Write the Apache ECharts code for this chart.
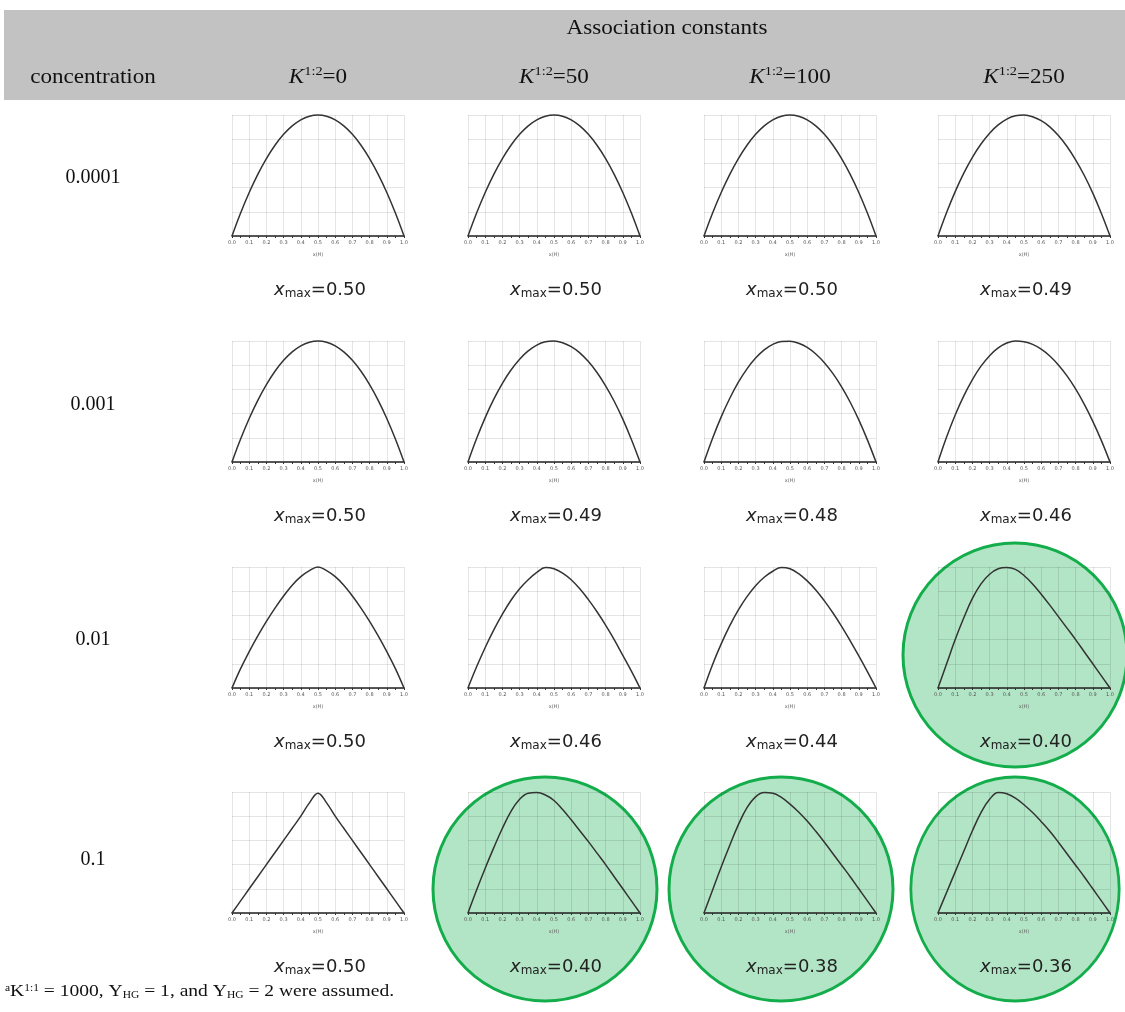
<!DOCTYPE html>
<html lang="en">
<head>
    <meta charset="UTF-8">
    <title>Job plots</title>
    <script src="https://cdn.jsdelivr.net/npm/echarts@6/dist/echarts.min.js"></script>
    <style>
        html, body { margin: 0; padding: 0; background: #fff; }
    </style>
</head>
<body>
    <div id="main" style="width: 1125px;height:1012px;"></div>
    <script type="text/javascript">
        // x(H) 取样点
        var xs = [0, 0.05, 0.1, 0.15, 0.2, 0.25, 0.3, 0.35, 0.4, 0.45, 0.5,
                  0.55, 0.6, 0.65, 0.7, 0.75, 0.8, 0.85, 0.9, 0.95, 1.0];
        var concentrations = ['0.0001', '0.001', '0.01', '0.1'];
        var k12Values = ['0', '50', '100', '250'];
        var xmaxRow1 = ['0.50', '0.50', '0.50', '0.49'];
        var xmaxRow2 = ['0.50', '0.49', '0.48', '0.46'];
        var xmaxRow3 = ['0.50', '0.46', '0.44', '0.40'];
        var xmaxRow4 = ['0.50', '0.40', '0.38', '0.36'];
        // 绿色圈出的格子 [行, 列]
        var highlighted = [[2, 3], [3, 1], [3, 2], [3, 3]];

        // 每个格子的曲线 (归一化)
        var r1c1 = [0, .19, .36, .51, .64, .75, .84, .91, .96, .99, 1.0, .99, .96, .91, .84, .75, .64, .51, .36, .19, 0];
        var r1c2 = [0, .19, .36, .51, .64, .75, .84, .91, .96, .99, 1.0, .99, .96, .91, .84, .75, .64, .51, .36, .19, 0];
        var r1c3 = [0, .19, .36, .51, .64, .75, .84, .91, .96, .99, 1.0, .99, .96, .91, .84, .75, .64, .51, .36, .19, 0];
        var r1c4 = [0, .194, .367, .519, .65, .76, .85, .918, .966, .993, 1.0, .986, .953, .902, .83, .74, .63, .502, .354, .186, 0];
        var r2c1 = [0, .19, .36, .51, .64, .75, .84, .91, .96, .99, 1.0, .99, .96, .91, .84, .75, .64, .51, .36, .19, 0];
        var r2c2 = [0, .194, .367, .519, .65, .76, .85, .918, .966, .993, 1.0, .986, .953, .902, .83, .74, .63, .502, .354, .186, 0];
        var r2c3 = [0, .197, .373, .527, .66, .77, .859, .927, .972, .996, .998, .982, .947, .893, .821, .73, .621, .494, .348, .183, 0];
        var r2c4 = [0, .206, .388, .546, .681, .792, .879, .943, .983, 1.0, .994, .972, .933, .876, .802, .712, .604, .478, .336, .177, 0];
        var r3c1 = [0, .16, .30, .43, .55, .66, .76, .85, .92, .97, 1.0, .97, .92, .85, .76, .66, .55, .43, .30, .16, 0];
        var r3c2 = [0, .175, .335, .48, .61, .725, .82, .895, .955, .995, .985, .95, .895, .82, .73, .63, .52, .40, .27, .14, 0];
        var r3c3 = [0, .195, .365, .515, .645, .755, .845, .915, .965, .995, .985, .945, .885, .81, .72, .62, .51, .39, .265, .135, 0];
        var r3c4 = [0, .20, .40, .58, .74, .86, .94, .985, .995, .98, .93, .86, .775, .685, .59, .495, .40, .30, .20, .10, 0];
        var r4c1 = [0, .10, .20, .30, .40, .50, .60, .70, .80, .91, .99, .91, .80, .70, .60, .50, .40, .30, .20, .10, 0];
        var r4c2 = [0, .19, .37, .54, .70, .84, .94, .99, .995, .975, .93, .855, .77, .68, .59, .495, .40, .30, .20, .10, 0];
        var r4c3 = [0, .19, .38, .56, .73, .87, .96, .995, .99, .955, .90, .835, .76, .675, .585, .49, .395, .30, .20, .10, 0];
        var r4c4 = [0, .17, .34, .51, .68, .83, .94, .995, .985, .95, .895, .83, .755, .675, .585, .49, .395, .30, .20, .10, 0];

        var curves = [[r1c1, r1c2, r1c3, r1c4], [r2c1, r2c2, r2c3, r2c4],
                      [r3c1, r3c2, r3c3, r3c4], [r4c1, r4c2, r4c3, r4c4]];
        var xmaxLabels = [xmaxRow1, xmaxRow2, xmaxRow3, xmaxRow4];

        // 版面
        var colLeft = [232, 468, 704, 938];
        var rowTop = [115, 341, 567, 792];
        var rowLabelY = [178, 405, 640, 860];
        var plotW = 172, plotH = 121;
        var serif = '"Liberation Serif", "DejaVu Serif", serif';
        var sans = '"DejaVu Sans", sans-serif';
        var gridColor = 'rgba(0,0,0,0.1)';

        var grids = [], xAxes = [], yAxes = [], series = [], graphics = [];

        // 表头灰条
        graphics.push({type: 'rect', z: -20, shape: {x: 4, y: 10, width: 1121, height: 90}, style: {fill: '#c2c2c2'}});
        graphics.push({type: 'text', z: 10, x: 667, y: 28, scaleX: 1.1, style: {text: 'Association constants', font: '21px ' + serif, fill: '#111', align: 'center', verticalAlign: 'middle'}});
        graphics.push({type: 'text', z: 10, x: 93, y: 77, scaleX: 1.1, style: {text: 'concentration', font: '21px ' + serif, fill: '#111', align: 'center', verticalAlign: 'middle'}});

        for (var c = 0; c < 4; c++) {
            graphics.push({
                type: 'text', z: 10, x: colLeft[c] + plotW / 2, y: 77, scaleX: 1.1,
                style: {
                    text: '{k|K}{s|1:2}{n|=' + k12Values[c] + '}',
                    align: 'center', verticalAlign: 'middle', fill: '#111',
                    rich: {
                        k: {fontFamily: serif, fontStyle: 'italic', fontSize: 21, fill: '#111'},
                        s: {fontFamily: serif, fontSize: 13, padding: [0, 0, 10, 0], fill: '#111'},
                        n: {fontFamily: serif, fontSize: 21, fill: '#111'}
                    }
                }
            });
        }

        // 行标签
        for (var r = 0; r < 4; r++) {
            graphics.push({type: 'text', z: 10, x: 93, y: rowLabelY[r], style: {text: concentrations[r], font: '20px ' + serif, fill: '#111', align: 'center', verticalAlign: 'middle'}});
        }

        // 绿色圈
        highlighted.forEach(function (cell) {
            var r = cell[0], c = cell[1];
            var narrow = (r === 3 && c === 3);
            graphics.push({
                type: 'circle', z: -10,
                x: colLeft[c] + plotW / 2 - 9,
                y: rowTop[r] + (r === 2 ? 88 : 97),
                scaleX: narrow ? 0.93 : 1,
                shape: {cx: 0, cy: 0, r: 112},
                style: {fill: '#b2e5c6', stroke: '#14ad4b', lineWidth: 3}
            });
        });

        var idx = 0;
        for (var r = 0; r < 4; r++) {
            for (var c = 0; c < 4; c++) {
                grids.push({left: colLeft[c], top: rowTop[r], width: plotW, height: plotH, containLabel: false});
                xAxes.push({
                    gridIndex: idx, type: 'value', min: 0, max: 1, interval: 0.1,
                    name: 'x(H)', nameLocation: 'middle', nameGap: 16,
                    nameTextStyle: {fontSize: 5, color: '#666', fontFamily: sans},
                    axisLine: {show: true, onZero: false, lineStyle: {color: '#222', width: 1.5}},
                    axisTick: {show: true, length: 2, lineStyle: {color: '#333'}},
                    minorTick: {show: true, splitNumber: 2, length: 2, lineStyle: {color: '#333'}},
                    axisLabel: {fontSize: 5, color: '#555', margin: 4, fontFamily: sans,
                        formatter: function (v) { return v.toFixed(1); }},
                    splitLine: {show: true, lineStyle: {color: gridColor, width: 1}}
                });
                yAxes.push({
                    gridIndex: idx, type: 'value', min: 0, max: 1, interval: 0.2,
                    axisLine: {show: false}, axisTick: {show: false}, axisLabel: {show: false},
                    splitLine: {show: true, lineStyle: {color: gridColor, width: 1}}
                });
                var ys = curves[r][c];
                series.push({
                    type: 'line', xAxisIndex: idx, yAxisIndex: idx,
                    data: xs.map(function (x, i) { return [x, ys[i]]; }),
                    showSymbol: false, smooth: 0.4, silent: true, clip: false,
                    lineStyle: {color: '#333', width: 1.5}
                });
                graphics.push({
                    type: 'text', z: 10, x: colLeft[c] + plotW / 2 + 2, y: rowTop[r] + 175,
                    style: {
                        text: '{x|x}{m|max}{v|=' + xmaxLabels[r][c] + '}',
                        align: 'center', verticalAlign: 'middle',
                        rich: {
                            x: {fontFamily: sans, fontStyle: 'italic', fontSize: 18, fill: '#222'},
                            m: {fontFamily: sans, fontSize: 12, padding: [8, 0, 0, 0], fill: '#222'},
                            v: {fontFamily: sans, fontSize: 18, fill: '#222'}
                        }
                    }
                });
                idx++;
            }
        }

        // 脚注
        graphics.push({
            type: 'text', z: 10, x: 5, y: 992, scaleX: 1.15,
            style: {
                text: '{s|a}{k|K}{s|1:1}{n| = 1000, }{k|Y}{b|HG}{n| = 1, and }{k|Y}{b|HG}{n| = 2 were assumed.}',
                align: 'left', verticalAlign: 'middle',
                rich: {
                    n: {fontFamily: serif, fontSize: 17, fill: '#111'},
                    k: {fontFamily: serif, fontSize: 17, fill: '#111'},
                    s: {fontFamily: serif, fontSize: 10, padding: [0, 0, 8, 0], fill: '#111'},
                    b: {fontFamily: serif, fontSize: 10, padding: [7, 0, 0, 0], fill: '#111'}
                }
            }
        });

        var myChart = echarts.init(document.getElementById('main'));
        var option = {
            animation: false,
            backgroundColor: '#fff',
            grid: grids,
            xAxis: xAxes,
            yAxis: yAxes,
            series: series,
            graphic: graphics
        };
        myChart.setOption(option);
    </script>
</body>
</html>
